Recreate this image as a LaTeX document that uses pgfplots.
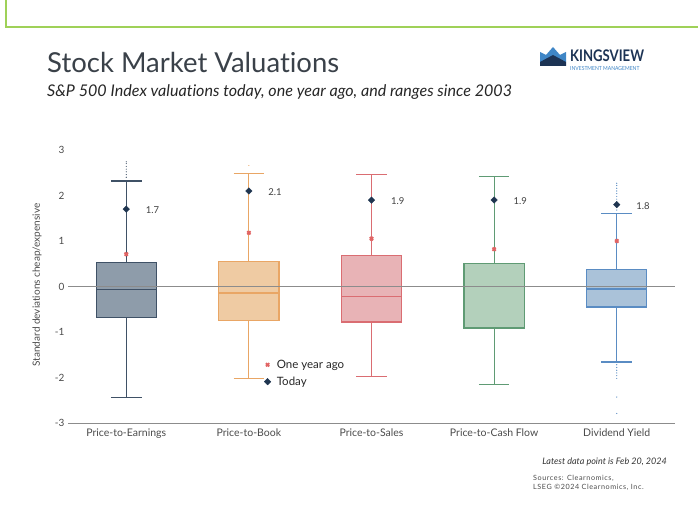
\documentclass[border=0pt]{standalone}
\usepackage{pgfplots}
\pgfplotsset{compat=1.18}
\usepgfplotslibrary{statistics}
\usepackage{fontspec}
\setmainfont[Ligatures=NoCommon]{Lato}
\newfontfamily\srcfont[LetterSpace=8]{Lato}

\definecolor{frame}{HTML}{9FD158}
\definecolor{titlec}{HTML}{3A4149}
\definecolor{txt}{HTML}{4A4A4A}
\definecolor{peE}{HTML}{3F5166}
\definecolor{peF}{HTML}{8E9CAA}
\definecolor{pbE}{HTML}{E9A665}
\definecolor{pbF}{HTML}{EFCBA3}
\definecolor{psE}{HTML}{DA6D72}
\definecolor{psF}{HTML}{E8B3B6}
\definecolor{pcE}{HTML}{5F9B74}
\definecolor{pcF}{HTML}{B3D0BB}
\definecolor{dyE}{HTML}{5A8CC3}
\definecolor{dyF}{HTML}{AAC2D9}
\definecolor{today}{HTML}{1F3550}
\definecolor{lastyr}{HTML}{E16464}
\definecolor{logoB}{HTML}{3F86C6}
\definecolor{logoN}{HTML}{1C3354}

% edge colour, fill colour
\pgfplotsset{
  vbox/.style n args={2}{
    boxplot/draw direction=y,
    draw=#1, line width=1.2pt,
    boxplot/every box/.style={draw=#1, fill=#2, line width=1.2pt},
    boxplot/every whisker/.style={draw=#1, line width=1.2pt},
    boxplot/every median/.style={draw=#1, line width=1.5pt},
    mark=*, mark size=0.35pt, mark options={draw=#1, fill=#1, line width=0.3pt},
    boxplot/box extend=0.49, boxplot/whisker extend=0.25,
    forget plot,
  },
}

\begin{document}
\begin{tikzpicture}[x=1pt,y=1pt]
\useasboundingbox (0,0) rectangle (698,518);
\draw[frame, line width=2.6pt] (6,520) -- (6,491) -- (700,491);

% titles
\node[anchor=base west, inner sep=0, text=titlec, font=\fontsize{27.5}{30}\selectfont] at (47,445) {Stock Market Valuations};
\node[anchor=base west, inner sep=0, text=black!85, font=\itshape\fontsize{16.1}{18}\selectfont] at (47,421) {S\&P 500 Index valuations today, one year ago, and ranges since 2003};

% logo
\fill[logoB] (540,466) -- (546,463) -- (553,471) -- (560,463) -- (566,466) -- (566,456) -- (540,456) -- cycle;
\fill[logoN] (540,456) -- (553,463) -- (566,456) -- (566,452) -- (540,452) -- cycle;
\node[anchor=base west, inner sep=0, text=logoN, font=\bfseries\fontsize{16}{16}\selectfont, xscale=0.82] at (570,456) {KINGSVIEW};
\node[anchor=base west, inner sep=0, text=logoB, font=\fontsize{5.6}{6}\selectfont, xscale=0.9] at (570,447) {INVESTMENT MANAGEMENT};

% y label
\node[rotate=90, text=txt, font=\fontsize{10}{12}\selectfont] at (37,233) {Standard deviations cheap/expensive};

% footnotes
\node[anchor=base east, inner sep=0, text=black!80, font=\itshape\fontsize{9}{10}\selectfont] at (667,53) {Latest data point is Feb 20, 2024};
\node[anchor=base west, inner sep=0, text=black!70, font=\srcfont\fontsize{7.2}{8}\selectfont] at (533,37) {Sources: Clearnomics,};
\node[anchor=base west, inner sep=0, text=black!70, font=\srcfont\fontsize{7.2}{8}\selectfont] at (533,28) {LSEG \textcopyright2024 Clearnomics, Inc.};

\begin{axis}[
  at={(68pt,95pt)}, anchor=south west,
  scale only axis, width=607pt, height=273pt,
  xmin=-0.475, xmax=4.475, ymin=-3, ymax=3,
  axis x line=bottom, axis y line=left,
  x axis line style={draw=black!45, line width=0.9pt, -},
  y axis line style={draw=none},
  xtick={0,1,2,3,4},
  xticklabels={Price-to-Earnings, Price-to-Book, Price-to-Sales, Price-to-Cash Flow, Dividend Yield},
  ytick={-3,-2,-1,0,1,2,3},
  major tick length=0pt,
  /pgf/number format/assume math mode=true,
  x tick label style={font=\fontsize{10.5}{12}\selectfont, text=txt, yshift=-2pt},
  y tick label style={font=\fontsize{10}{12}\selectfont, text=txt},
  legend style={at={(axis cs:1.10,-1.52)}, anchor=north west, draw=none, fill=none,
    font=\fontsize{11.5}{13}\selectfont, row sep=3pt, text=black!85,
    cells={anchor=west}, nodes={inner xsep=6pt}},
  legend image code/.code={\draw[#1] plot coordinates {(0pt,0pt)};},
]
\addplot[vbox={peE}{peF}, boxplot prepared={draw position=0,
  lower whisker=-2.44, lower quartile=-0.69, median=-0.07, upper quartile=0.52, upper whisker=2.32}]
  coordinates {(0,2.40) (0,2.46) (0,2.52) (0,2.58) (0,2.64) (0,2.70) (0,2.74)};
\addplot[vbox={pbE}{pbF}, boxplot prepared={draw position=1,
  lower whisker=-2.02, lower quartile=-0.75, median=-0.14, upper quartile=0.55, upper whisker=2.48}]
  coordinates {(1,2.66)};
\addplot[vbox={psE}{psF}, boxplot prepared={draw position=2,
  lower whisker=-1.98, lower quartile=-0.78, median=-0.22, upper quartile=0.68, upper whisker=2.47}]
  coordinates {};
\addplot[vbox={pcE}{pcF}, boxplot prepared={draw position=3,
  lower whisker=-2.16, lower quartile=-0.91, median=0.0, upper quartile=0.51, upper whisker=2.42}]
  coordinates {};
\addplot[vbox={dyE}{dyF}, boxplot prepared={draw position=4,
  lower whisker=-1.66, lower quartile=-0.45, median=-0.05, upper quartile=0.37, upper whisker=1.61}]
  coordinates {(4,1.68) (4,1.74) (4,1.80) (4,1.86) (4,1.92) (4,1.98) (4,2.04) (4,2.10) (4,2.16) (4,2.22) (4,2.27)
               (4,-1.72) (4,-1.78) (4,-1.84) (4,-1.90) (4,-1.96) (4,-2.02) (4,-2.43) (4,-2.79)};

% zero line
\addplot[forget plot, black!45, line width=0.8pt] coordinates {(-0.475,0) (4.475,0)};

% one year ago
\addplot[only marks, mark=x, mark size=2.3pt, line width=1.9pt, color=lastyr]
  coordinates {(0,0.71) (1,1.18) (2,1.05) (3,0.82) (4,1.00)};
\addlegendentry{One year ago}
% today
\addplot[only marks, mark=square*, mark size=2.3pt, mark options={rotate=45}, color=today,
  nodes near coords, point meta=explicit symbolic,
  every node near coord/.append style={anchor=west, xshift=16pt, yshift=-1pt, text=black!75,
    font=\fontsize{9.5}{10}\selectfont}]
  coordinates {(0,1.7)[1.7] (1,2.1)[2.1] (2,1.9)[1.9] (3,1.9)[1.9] (4,1.8)[1.8]};
\addlegendentry{Today}
\end{axis}
\end{tikzpicture}
\end{document}
